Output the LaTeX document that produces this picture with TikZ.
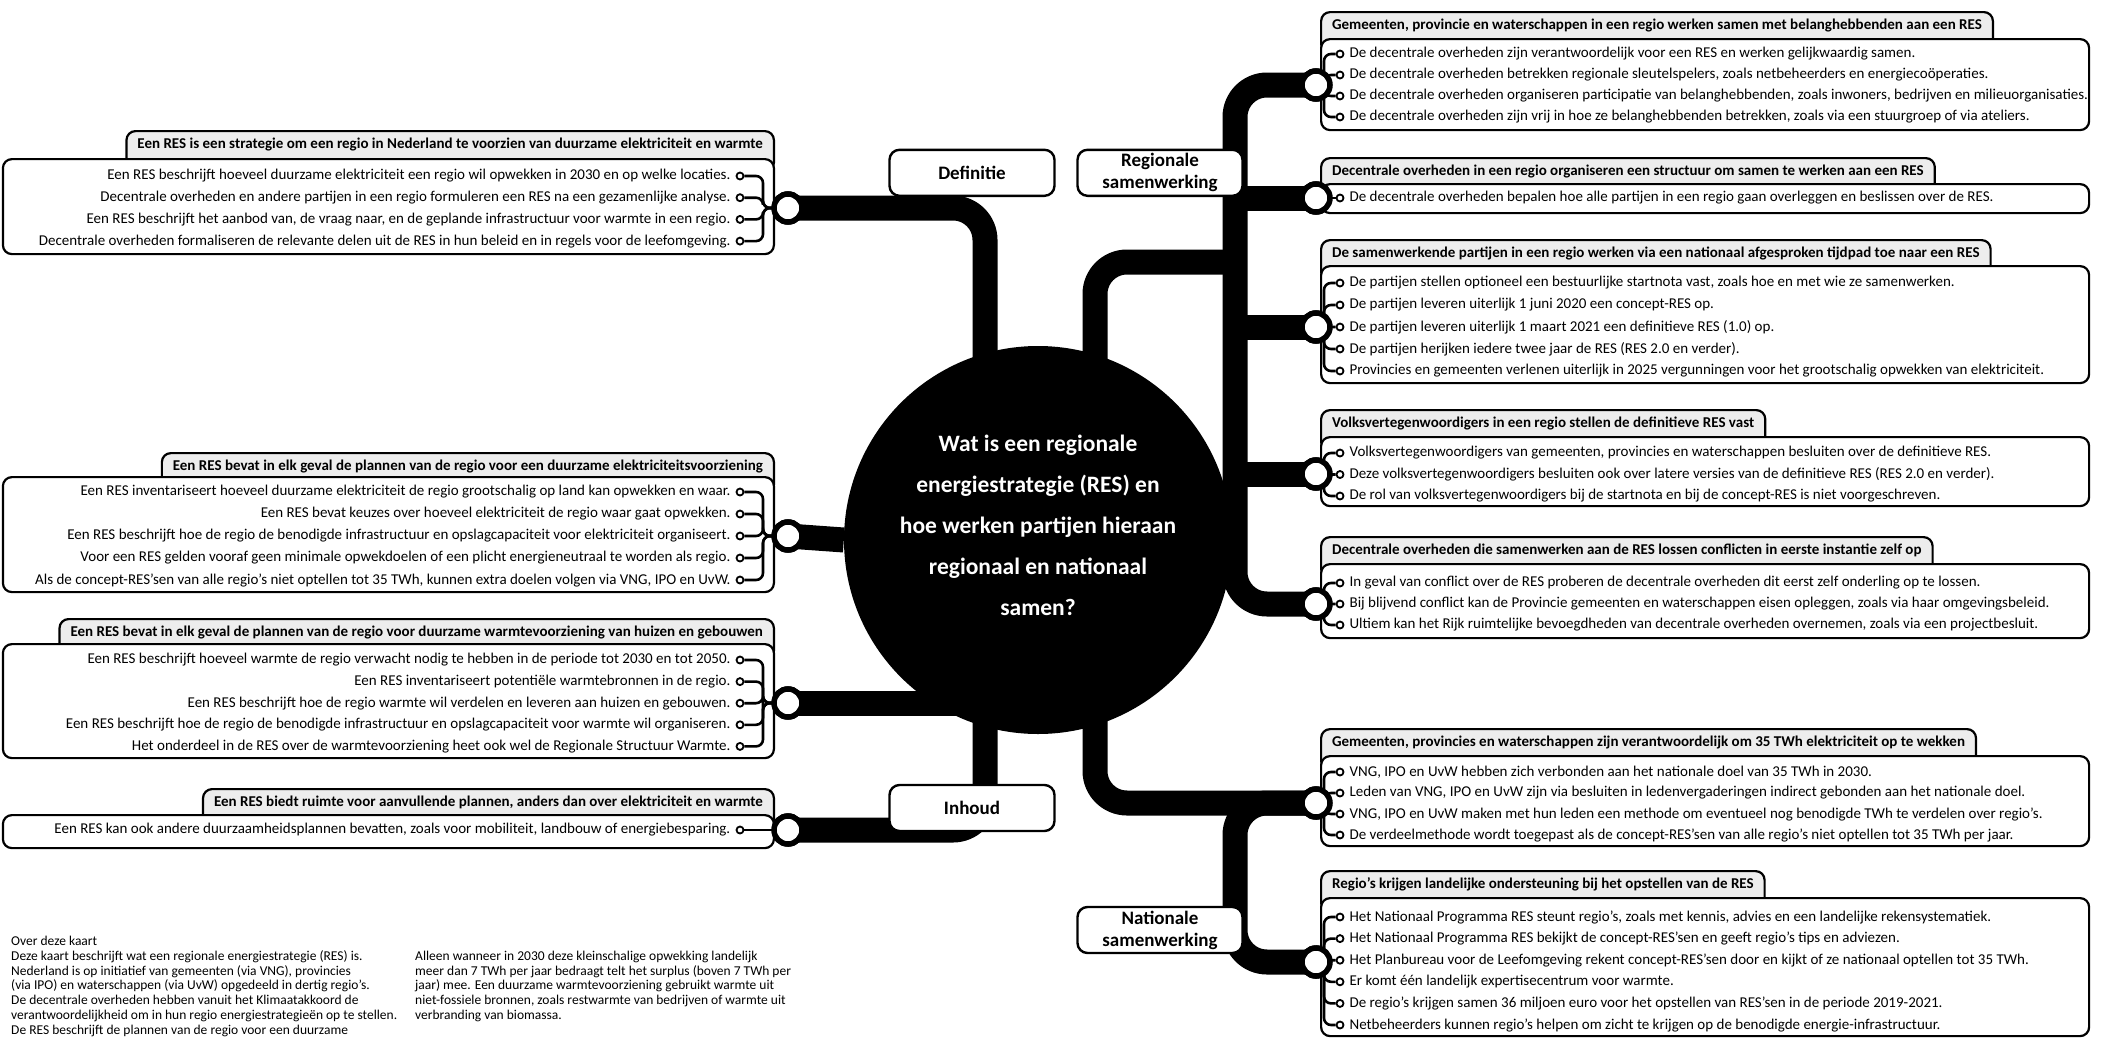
\documentclass[tikz,border=0pt]{standalone}
\usepackage{fontspec}
\setmainfont{Carlito}
\usetikzlibrary{positioning,calc}
\tikzset{
	% list groups: a grey tab with the heading, a white box with the items
	list box/.style={draw,line width=2.2pt,rounded corners=9pt,fill=white,inner sep=0pt},
	head tab/.style={draw,line width=2.2pt,rounded corners=9pt,fill=black!7,
		font=\bfseries\fontsize{15}{17}\selectfont,inner xsep=11pt,inner ysep=7pt,
		text height=10.5pt,text depth=16pt},
	item dot/.style={circle,draw,line width=1.8pt,fill=white,inner sep=0pt,minimum size=7pt},
	item text/.style={font=\fontsize{15}{17}\selectfont,inner sep=2pt},
	hub ring/.style={circle,draw,line width=5.5pt,fill=white,inner sep=0pt,minimum size=28pt},
	bracket/.style={line width=2.6pt,rounded corners=7pt},
	trunk/.style={line width=25pt,line cap=butt,rounded corners=32pt},
	branch label/.style={draw,line width=2.4pt,rounded corners=10pt,fill=white,
		font=\bfseries\fontsize{19}{22}\selectfont,align=center,minimum width=165pt,minimum height=46pt},
	note text/.style={font=\fontsize{13.5}{14.8}\selectfont,align=left,anchor=north west,inner sep=0pt}
}
\begin{document}
\begin{tikzpicture}[x=1pt,y=-1pt]
	\useasboundingbox (0,0) rectangle (2102,1039);
	% hubs
	\node[circle,fill=black,minimum size=388pt] (core) at (1038,540) {};
	\node[hub ring] (ringA) at (788,208) {};
	\node[hub ring] (ringB) at (788,536) {};
	\node[hub ring] (ringC) at (788,703) {};
	\node[hub ring] (ringD) at (788,830) {};
	\node[hub ring] (ringE) at (1316,85) {};
	\node[hub ring] (ringF) at (1316,198) {};
	\node[hub ring] (ringG) at (1316,327) {};
	\node[hub ring] (ringH) at (1316,474) {};
	\node[hub ring] (ringI) at (1316,604) {};
	\node[hub ring] (ringJ) at (1316,803) {};
	\node[hub ring] (ringK) at (1316,962) {};
	% trunks
	\draw[trunk] (ringA.center) -- (985,208) -- (985,430);
	\draw[trunk] (ringE.center) -| (1235,330) |- (ringI.center);
	\foreach \r in {ringF,ringG,ringH}
		\draw[trunk] (1235,0 |- \r) -- (\r.center);
	\draw[trunk] (1095,430) -- (1095,262) -- (1235,262);
	\draw[trunk] (ringB.center) -- (core.180);
	\draw[trunk] (985,650) -- (985,830) -- (ringD.center);
	\draw[trunk] (985,703) -- (ringC.center);
	\draw[trunk] (1095,650) |- (ringJ.center);
	\draw[trunk] (ringJ.center) -| (1235,962) -- (ringK.center);
	% left groups
	\node[head tab,anchor=north east] (tabA) at (775,130) {Een RES is een strategie om een regio in Nederland te voorzien van duurzame elektriciteit en warmte};
	\node[list box,minimum width=771pt,minimum height=95pt,anchor=north east] (boxA) at (775,158) {};
	\foreach \t [count=\i] in {{Een RES beschrijft hoeveel duurzame elektriciteit een regio wil opwekken in 2030 en op welke locaties.},
		{Decentrale overheden en andere partijen in een regio formuleren een RES na een gezamenlijke analyse.},
		{Een RES beschrijft het aanbod van, de vraag naar, en de geplande infrastructuur voor warmte in een regio.},
		{Decentrale overheden formaliseren de relevante delen uit de RES in hun beleid en in regels voor de leefomgeving.}}{
		\node[item dot] (a\i) at (740,{176+21.7*(\i-1)}) {};
		\node[item text,left=3pt of a\i] {\t};
		\draw[bracket] (ringA.center) -- ++(-25,0) |- (a\i);
	}
	\node[head tab,anchor=north east] (tabB) at (775,452) {Een RES bevat in elk geval de plannen van de regio voor een duurzame elektriciteitsvoorziening};
	\node[list box,minimum width=771pt,minimum height=115pt,anchor=north east] (boxB) at (775,476) {};
	\foreach \t [count=\i] in {{Een RES inventariseert hoeveel duurzame elektriciteit de regio grootschalig op land kan opwekken en waar.},
		{Een RES bevat keuzes over hoeveel elektriciteit de regio waar gaat opwekken.},
		{Een RES beschrijft hoe de regio de benodigde infrastructuur en opslagcapaciteit voor elektriciteit organiseert.},
		{Voor een RES gelden vooraf geen minimale opwekdoelen of een plicht energieneutraal te worden als regio.},
		{Als de concept-RES’sen van alle regio’s niet optellen tot 35 TWh, kunnen extra doelen volgen via VNG, IPO en UvW.}}{
		\node[item dot] (b\i) at (740,{492+22*(\i-1)}) {};
		\node[item text,left=3pt of b\i] {\t};
		\draw[bracket] (ringB.center) -- ++(-25,0) |- (b\i);
	}
	\node[head tab,anchor=north east] (tabC) at (775,618) {Een RES bevat in elk geval de plannen van de regio voor duurzame warmtevoorziening van huizen en gebouwen};
	\node[list box,minimum width=771pt,minimum height=114pt,anchor=north east] (boxC) at (775,643) {};
	\foreach \t [count=\i] in {{Een RES beschrijft hoeveel warmte de regio verwacht nodig te hebben in de periode tot 2030 en tot 2050.},
		{Een RES inventariseert potentiële warmtebronnen in de regio.},
		{Een RES beschrijft hoe de regio warmte wil verdelen en leveren aan huizen en gebouwen.},
		{Een RES beschrijft hoe de regio de benodigde infrastructuur en opslagcapaciteit voor warmte wil organiseren.},
		{Het onderdeel in de RES over de warmtevoorziening heet ook wel de Regionale Structuur Warmte.}}{
		\node[item dot] (c\i) at (740,{660+21.6*(\i-1)}) {};
		\node[item text,left=3pt of c\i] {\t};
		\draw[bracket] (ringC.center) -- ++(-25,0) |- (c\i);
	}
	\node[head tab,anchor=north east] (tabD) at (775,788) {Een RES biedt ruimte voor aanvullende plannen, anders dan over elektriciteit en warmte};
	\node[list box,minimum width=771pt,minimum height=33pt,anchor=north east] (boxD) at (775,814) {};
	\node[item dot] (d1) at (740,830) {};
	\node[item text,left=3pt of d1] {Een RES kan ook andere duurzaamheidsplannen bevatten, zoals voor mobiliteit, landbouw of energiebesparing.};
	\draw[bracket] (ringD.center) -- (d1);
	% right groups
	\node[head tab,anchor=north west] (tabE) at (1320,11) {Gemeenten, provincie en waterschappen in een regio werken samen met belanghebbenden aan een RES};
	\node[list box,minimum width=768pt,minimum height=91pt,anchor=north west] (boxE) at (1320,38) {};
	\foreach \t [count=\i] in {{De decentrale overheden zijn verantwoordelijk voor een RES en werken gelijkwaardig samen.},
		{De decentrale overheden betrekken regionale sleutelspelers, zoals netbeheerders en energiecoöperaties.},
		{De decentrale overheden organiseren participatie van belanghebbenden, zoals inwoners, bedrijven en milieuorganisaties.},
		{De decentrale overheden zijn vrij in hoe ze belanghebbenden betrekken, zoals via een stuurgroep of via ateliers.}}{
		\node[item dot] (e\i) at (1340,{54+21*(\i-1)}) {};
		\node[item text,right=3pt of e\i] {\t};
		\draw[bracket] (ringE.center) -- ++(8,0) |- (e\i);
	}
	\node[head tab,anchor=north west] (tabF) at (1320,157) {Decentrale overheden in een regio organiseren een structuur om samen te werken aan een RES};
	\node[list box,minimum width=768pt,minimum height=29pt,anchor=north west] (boxF) at (1320,183) {};
	\node[item dot] (f1) at (1340,198) {};
	\node[item text,right=3pt of f1] {De decentrale overheden bepalen hoe alle partijen in een regio gaan overleggen en beslissen over de RES.};
	\draw[bracket] (ringF.center) -- (f1);
	\node[head tab,anchor=north west] (tabG) at (1320,239) {De samenwerkende partijen in een regio werken via een nationaal afgesproken tijdpad toe naar een RES};
	\node[list box,minimum width=768pt,minimum height=117pt,anchor=north west] (boxG) at (1320,265) {};
	\foreach \t [count=\i] in {{De partijen stellen optioneel een bestuurlijke startnota vast, zoals hoe en met wie ze samenwerken.},
		{De partijen leveren uiterlijk 1 juni 2020 een concept-RES op.},
		{De partijen leveren uiterlijk 1 maart 2021 een definitieve RES (1.0) op.},
		{De partijen herijken iedere twee jaar de RES (RES 2.0 en verder).},
		{Provincies en gemeenten verlenen uiterlijk in 2025 vergunningen voor het grootschalig opwekken van elektriciteit.}}{
		\node[item dot] (g\i) at (1340,{283+22*(\i-1)}) {};
		\node[item text,right=3pt of g\i] {\t};
		\draw[bracket] (ringG.center) -- ++(8,0) |- (g\i);
	}
	\node[head tab,anchor=north west] (tabH) at (1320,409) {Volksvertegenwoordigers in een regio stellen de definitieve RES vast};
	\node[list box,minimum width=768pt,minimum height=69pt,anchor=north west] (boxH) at (1320,436) {};
	\foreach \t [count=\i] in {{Volksvertegenwoordigers van gemeenten, provincies en waterschappen besluiten over de definitieve RES.},
		{Deze volksvertegenwoordigers besluiten ook over latere versies van de definitieve RES (RES 2.0 en verder).},
		{De rol van volksvertegenwoordigers bij de startnota en bij de concept-RES is niet voorgeschreven.}}{
		\node[item dot] (h\i) at (1340,{453+21.5*(\i-1)}) {};
		\node[item text,right=3pt of h\i] {\t};
		\draw[bracket] (ringH.center) -- ++(8,0) |- (h\i);
	}
	\node[head tab,anchor=north west] (tabI) at (1320,536) {Decentrale overheden die samenwerken aan de RES lossen conflicten in eerste instantie zelf op};
	\node[list box,minimum width=768pt,minimum height=74pt,anchor=north west] (boxI) at (1320,563) {};
	\foreach \t [count=\i] in {{In geval van conflict over de RES proberen de decentrale overheden dit eerst zelf onderling op te lossen.},
		{Bij blijvend conflict kan de Provincie gemeenten en waterschappen eisen opleggen, zoals via haar omgevingsbeleid.},
		{Ultiem kan het Rijk ruimtelijke bevoegdheden van decentrale overheden overnemen, zoals via een projectbesluit.}}{
		\node[item dot] (i\i) at (1340,{583+21*(\i-1)}) {};
		\node[item text,right=3pt of i\i] {\t};
		\draw[bracket] (ringI.center) -- ++(8,0) |- (i\i);
	}
	\node[head tab,anchor=north west] (tabJ) at (1320,728) {Gemeenten, provincies en waterschappen zijn verantwoordelijk om 35 TWh elektriciteit op te wekken};
	\node[list box,minimum width=768pt,minimum height=90pt,anchor=north west] (boxJ) at (1320,755) {};
	\foreach \t [count=\i] in {{VNG, IPO en UvW hebben zich verbonden aan het nationale doel van 35 TWh in 2030.},
		{Leden van VNG, IPO en UvW zijn via besluiten in ledenvergaderingen indirect gebonden aan het nationale doel.},
		{VNG, IPO en UvW maken met hun leden een methode om eventueel nog benodigde TWh te verdelen over regio’s.},
		{De verdeelmethode wordt toegepast als de concept-RES’sen van alle regio’s niet optellen tot 35 TWh per jaar.}}{
		\node[item dot] (j\i) at (1340,{772+21*(\i-1)}) {};
		\node[item text,right=3pt of j\i] {\t};
		\draw[bracket] (ringJ.center) -- ++(8,0) |- (j\i);
	}
	\node[head tab,anchor=north west] (tabK) at (1320,870) {Regio’s krijgen landelijke ondersteuning bij het opstellen van de RES};
	\node[list box,minimum width=768pt,minimum height=138pt,anchor=north west] (boxK) at (1320,897) {};
	\foreach \t [count=\i] in {{Het Nationaal Programma RES steunt regio’s, zoals met kennis, advies en een landelijke rekensystematiek.},
		{Het Nationaal Programma RES bekijkt de concept-RES’sen en geeft regio’s tips en adviezen.},
		{Het Planbureau voor de Leefomgeving rekent concept-RES’sen door en kijkt of ze nationaal optellen tot 35 TWh.},
		{Er komt één landelijk expertisecentrum voor warmte.},
		{De regio’s krijgen samen 36 miljoen euro voor het opstellen van RES’sen in de periode 2019-2021.},
		{Netbeheerders kunnen regio’s helpen om zicht te krijgen op de benodigde energie-infrastructuur.}}{
		\node[item dot] (k\i) at (1340,{917+21.6*(\i-1)}) {};
		\node[item text,right=3pt of k\i] {\t};
		\draw[bracket] (ringK.center) -- ++(8,0) |- (k\i);
	}
	% rings on top of trunks and brackets
	\foreach \r in {ringA,ringB,ringC,ringD,ringE,ringF,ringG,ringH,ringI,ringJ,ringK}
		\node[hub ring] at (\r) {};
	% centre and branch labels
	\node[text=white,font=\bfseries\fontsize{23.5}{41}\selectfont,align=center] (title) at (1038,525) {Wat is een regionale\\energiestrategie (RES) en\\hoe werken partijen hieraan\\regionaal en nationaal\\samen?};
	\node[branch label,anchor=south] (lblDef) at (972,197) {Definitie};
	\node[branch label,anchor=south] (lblReg) at (1160,197) {Regionale\\samenwerking};
	\node[branch label] (lblInh) at (972,808) {Inhoud};
	\node[branch label] (lblNat) at (1160,930) {Nationale\\samenwerking};
	% note
	\node[note text] (noteA) at (11,936) {Over deze kaart\\Deze kaart beschrijft wat een regionale energiestrategie (RES) is.\\Nederland is op initiatief van gemeenten (via VNG), provincies\\(via IPO) en waterschappen (via UvW) opgedeeld in dertig regio’s.\\De decentrale overheden hebben vanuit het Klimaatakkoord de\\verantwoordelijkheid om in hun regio energiestrategieën op te stellen.\\De RES beschrijft de plannen van de regio voor een duurzame};
	\node[note text] (noteB) at (415,950.8) {Alleen wanneer in 2030 deze kleinschalige opwekking landelijk\\meer dan 7 TWh per jaar bedraagt telt het surplus (boven 7 TWh per\\jaar) mee. Een duurzame warmtevoorziening gebruikt warmte uit\\niet-fossiele bronnen, zoals restwarmte van bedrijven of warmte uit\\verbranding van biomassa.};
\end{tikzpicture}
\end{document}
